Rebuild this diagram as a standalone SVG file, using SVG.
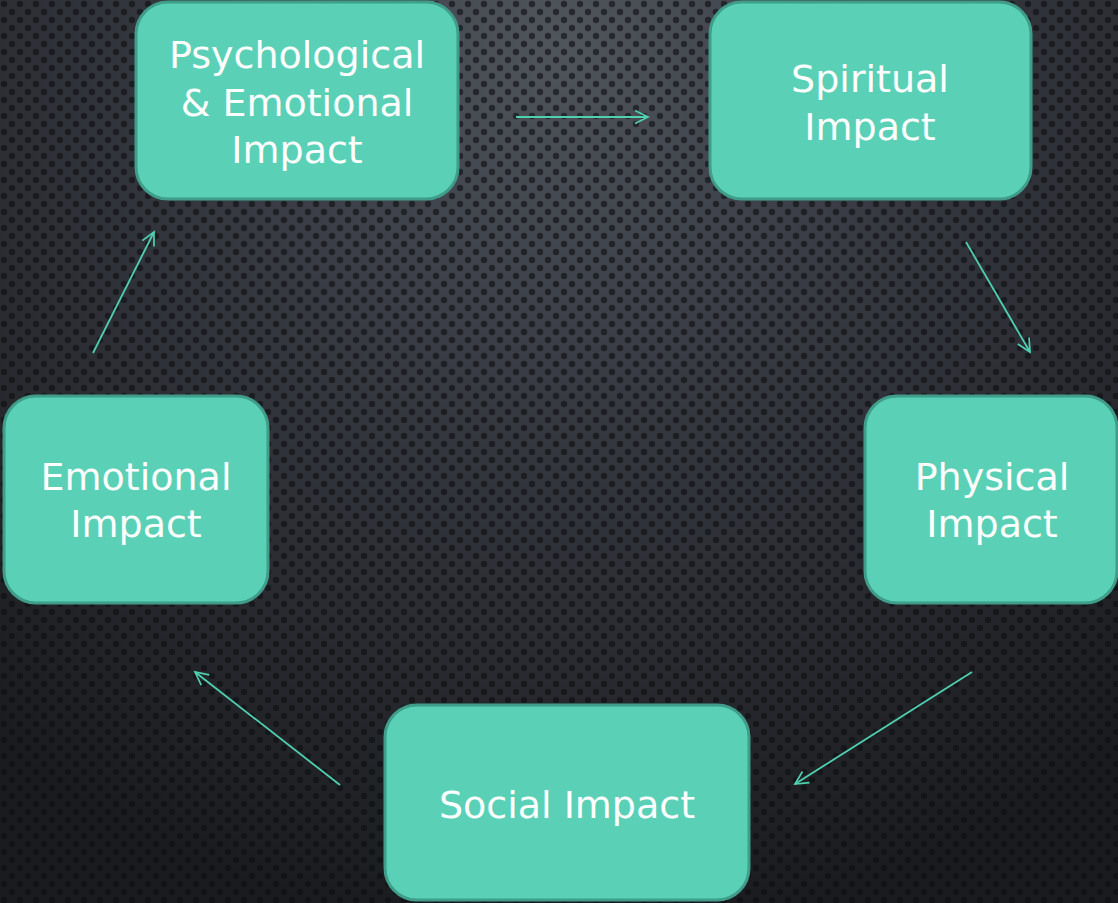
<svg xmlns="http://www.w3.org/2000/svg" width="1118" height="903" viewBox="0 0 1118 903">
<defs>
<radialGradient id="bg" cx="560" cy="40" r="900" gradientUnits="userSpaceOnUse">
<stop offset="0" stop-color="#50545d"/>
<stop offset="0.45" stop-color="#34373e"/>
<stop offset="1" stop-color="#1a1b1e"/>
</radialGradient>
<pattern id="dots" width="16" height="16" patternUnits="userSpaceOnUse">
<circle cx="4" cy="4" r="3.2" fill="#0c0d10" fill-opacity="0.6"/>
<circle cx="12" cy="12" r="3.2" fill="#0c0d10" fill-opacity="0.6"/>
</pattern>
<marker id="arr" viewBox="0 0 16 16" refX="14" refY="8" markerWidth="16" markerHeight="16" markerUnits="userSpaceOnUse" orient="auto">
<path d="M1,1.5 L14,8 L1,14.5" fill="none" stroke="#4fd0b1" stroke-width="1.7"/>
</marker>
</defs>
<style>
.box{fill:#5ad1b7;stroke:#3f9d89;stroke-width:3}
.lbl{font-family:"DejaVu Sans","Liberation Sans",sans-serif;font-size:38px;fill:#ffffff;text-anchor:middle}
.con{stroke:#4fd0b1;stroke-width:1.8;fill:none;marker-end:url(#arr)}
</style>
<rect width="1118" height="903" fill="url(#bg)"/>
<rect width="1118" height="903" fill="url(#dots)"/>
<g id="connectors">
<line class="con" x1="516" y1="117" x2="648" y2="117"/>
<line class="con" x1="966" y1="242" x2="1030" y2="352"/>
<line class="con" x1="972" y1="672" x2="795" y2="784"/>
<line class="con" x1="340" y1="785" x2="195" y2="672"/>
<line class="con" x1="93" y1="353" x2="154" y2="232"/>
</g>
<g id="node-psych">
<rect class="box" x="136" y="2" width="322" height="197" rx="32"/>
<text class="lbl" x="297" y="68">Psychological</text>
<text class="lbl" x="297" y="116">&amp; Emotional</text>
<text class="lbl" x="297" y="163">Impact</text>
</g>
<g id="node-spiritual">
<rect class="box" x="710" y="2" width="321" height="197" rx="32"/>
<text class="lbl" x="870" y="92">Spiritual</text>
<text class="lbl" x="870" y="140">Impact</text>
</g>
<g id="node-physical">
<rect class="box" x="865" y="396" width="252" height="207" rx="32"/>
<text class="lbl" x="992" y="490">Physical</text>
<text class="lbl" x="992" y="537">Impact</text>
</g>
<g id="node-social">
<rect class="box" x="385" y="705" width="364" height="195" rx="32"/>
<text class="lbl" x="567" y="818">Social Impact</text>
</g>
<g id="node-emotional">
<rect class="box" x="4" y="396" width="264" height="207" rx="32"/>
<text class="lbl" x="136" y="490">Emotional</text>
<text class="lbl" x="136" y="537">Impact</text>
</g>
</svg>
